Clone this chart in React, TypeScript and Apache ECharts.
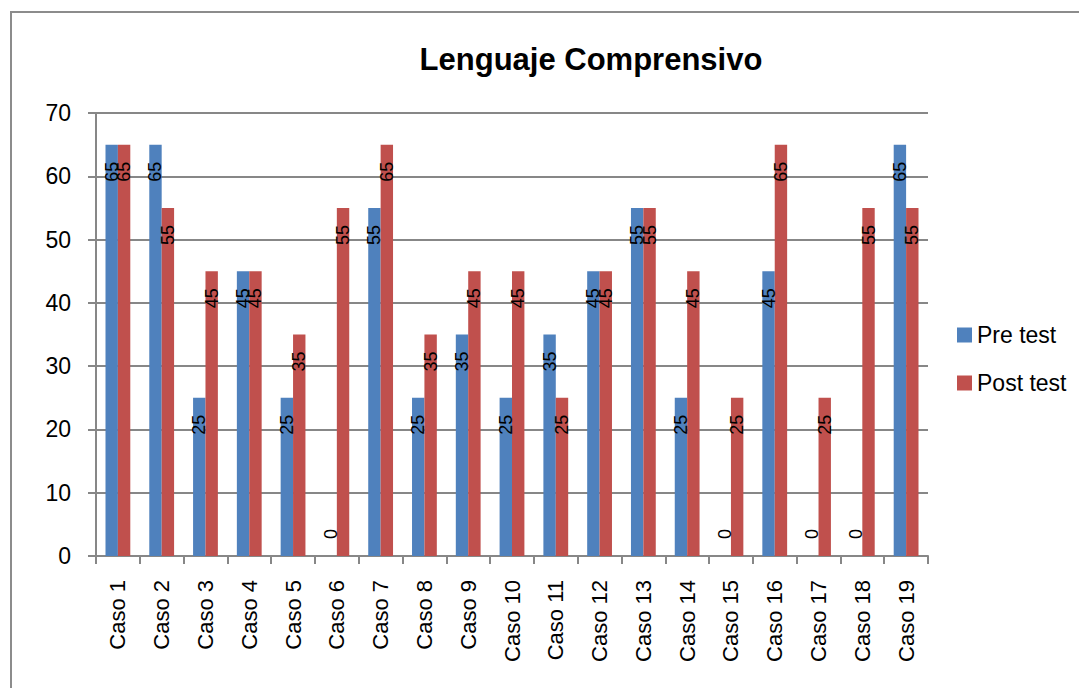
import React, { useEffect, useRef } from "react";
import * as echarts from "echarts";

const categories = [
  "Caso 1", "Caso 2", "Caso 3", "Caso 4", "Caso 5", "Caso 6", "Caso 7", "Caso 8", "Caso 9", "Caso 10",
  "Caso 11", "Caso 12", "Caso 13", "Caso 14", "Caso 15", "Caso 16", "Caso 17", "Caso 18", "Caso 19",
];
const preTest = [65, 65, 25, 45, 25, 0, 55, 25, 35, 25, 35, 45, 55, 25, 0, 45, 0, 0, 65];
const postTest = [65, 55, 45, 45, 35, 55, 65, 35, 45, 45, 25, 45, 55, 45, 25, 65, 25, 55, 55];
const yTicks = { min: 0, max: 70, interval: 10 };

const FONT = "Liberation Sans";
const GRAY = "#878787";

function toData(values: number[]) {
  return values.map((v) =>
    v === 0
      ? {
          value: v,
          label: { position: "insideBottom", align: "left", verticalAlign: "middle", distance: 17 },
        }
      : v
  );
}

export default function App() {
  const ref = useRef<HTMLDivElement>(null);
  useEffect(() => {
    if (!ref.current) return;
    const chart = echarts.init(ref.current, null, { renderer: "svg" });
    const barLabel = {
      show: true,
      position: "insideTop",
      rotate: 90,
      align: "right",
      verticalAlign: "middle",
      distance: 17,
      color: "#000",
      fontFamily: FONT,
      fontSize: 18,
    };
    chart.setOption({
      animation: false,
      backgroundColor: "#fff",
      title: {
        text: "Lenguaje Comprensivo",
        left: 586,
        textAlign: "center",
        top: 39,
        textStyle: { fontFamily: FONT, fontWeight: "bold", fontSize: 31, color: "#000" },
      },
      graphic: [
        {
          type: "rect",
          shape: { x: 11, y: 12, width: 1120, height: 720 },
          style: { fill: "none", stroke: "#8c8c8c", lineWidth: 2 },
          silent: true,
        },
      ],
      legend: {
        orient: "vertical",
        left: 957,
        top: 322,
        padding: 0,
        itemWidth: 15,
        itemHeight: 15,
        itemGap: 22,
        icon: "rect",
        textStyle: { fontFamily: FONT, fontSize: 23, color: "#000", lineHeight: 26 },
        data: ["Pre test", "Post test"],
      },
      grid: { left: 96, right: 151, top: 113, bottom: 132, containLabel: false },
      xAxis: {
        type: "category",
        data: categories,
        axisLine: { lineStyle: { color: GRAY, width: 2 } },
        axisTick: { show: true, length: 8, lineStyle: { color: GRAY, width: 2 } },
        axisLabel: { rotate: 90, margin: 24, fontFamily: FONT, fontSize: 22, color: "#000", interval: 0 },
      },
      yAxis: {
        type: "value",
        min: yTicks.min,
        max: yTicks.max,
        interval: yTicks.interval,
        axisLine: { show: true, lineStyle: { color: GRAY, width: 2 } },
        axisTick: { show: true, length: 8, lineStyle: { color: GRAY, width: 2 } },
        axisLabel: { margin: 25, fontFamily: FONT, fontSize: 23, color: "#000" },
        splitLine: { lineStyle: { color: GRAY, width: 2 } },
      },
      series: [
        {
          name: "Pre test",
          type: "bar",
          data: toData(preTest),
          barWidth: 12.4,
          barGap: "0%",
          itemStyle: { color: "#4F81BD" },
          label: barLabel,
        },
        {
          name: "Post test",
          type: "bar",
          data: toData(postTest),
          barWidth: 12.4,
          barGap: "0%",
          itemStyle: { color: "#C0504D" },
          label: barLabel,
        },
      ],
    });
    return () => chart.dispose();
  }, []);
  return (
    <div
      ref={ref}
      style={{ position: "fixed", left: 0, top: 0, width: 1079, height: 688, background: "#fff" }}
    />
  );
}
